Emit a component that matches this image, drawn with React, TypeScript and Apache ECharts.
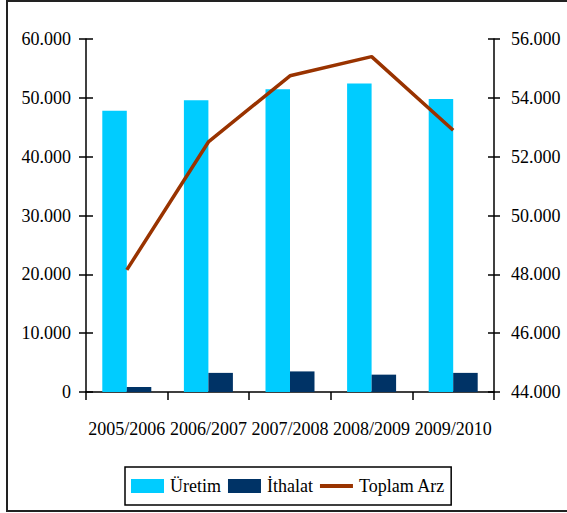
import React, { useEffect, useRef } from "react";
import * as echarts from "echarts";

const categories = ["2005/2006", "2006/2007", "2007/2008", "2008/2009", "2009/2010"];
const uretim = [47800, 49600, 51450, 52450, 49800];
const ithalat = [850, 3250, 3500, 2950, 3250];
const toplamArz = [48150, 52500, 54750, 55400, 52900];
const leftTicks = { min: 0, max: 60000, interval: 10000 };
const rightTicks = { min: 44000, max: 56000, interval: 2000 };

const FONT = "'Liberation Serif', 'Times New Roman', 'DejaVu Serif', serif";
const fmt = (v: number) => {
  if (v === 0) return "0";
  const s = String(Math.round(v));
  return s.replace(/\B(?=(\d{3})+(?!\d))/g, ".");
};

export default function App() {
  const ref = useRef<HTMLDivElement>(null);
  useEffect(() => {
    if (!ref.current) return;
    const chart = echarts.init(ref.current, null, { renderer: "svg" });
    const axisLine = { show: true, lineStyle: { color: "#000", width: 1.5 } };
    const tickStyle = { color: "#000", width: 1.5 };
    chart.setOption({
      animation: false,
      backgroundColor: "#fff",
      textStyle: { fontFamily: FONT, color: "#000" },
      graphic: [
        {
          type: "rect",
          shape: { x: 7, y: 1, width: 600, height: 510 },
          style: { fill: "none", stroke: "#222", lineWidth: 2 },
          silent: true,
        },
      ],
      grid: {
        left: 86,
        right: 73,
        top: 39,
        bottom: 121,
        outerBoundsMode: "none",
        containLabel: false,
      },
      legend: {
        left: 125,
        top: 467,
        padding: [10, 6, 10, 6],
        itemWidth: 33,
        itemHeight: 14,
        itemGap: 7,
        borderColor: "#000",
        borderWidth: 1.5,
        backgroundColor: "#fff",
        textStyle: { fontFamily: FONT, fontSize: 18, color: "#000", padding: [0, 0, 0, 1] },
        data: [
          { name: "Üretim", icon: "rect" },
          { name: "İthalat", icon: "rect" },
          { name: "Toplam Arz", icon: "path://M0,0 M0,5 L33,5 L33,9 L0,9 Z M33,14" },
        ],
      },
      xAxis: {
        type: "category",
        data: categories,
        boundaryGap: true,
        axisLine,
        axisTick: { show: true, length: 8, lineStyle: tickStyle },
        axisLabel: { fontFamily: FONT, fontSize: 18, color: "#000", margin: 28, interval: 0 },
        splitLine: { show: false },
      },
      yAxis: [
        {
          type: "value",
          position: "left",
          ...leftTicks,
          axisLine,
          axisTick: { show: true, length: 7, lineStyle: tickStyle },
          axisLabel: { fontFamily: FONT, fontSize: 18, color: "#000", margin: 15, formatter: fmt },
          splitLine: { show: false },
        },
        {
          type: "value",
          position: "right",
          ...rightTicks,
          axisLine,
          axisTick: { show: true, length: 6, lineStyle: tickStyle },
          axisLabel: { fontFamily: FONT, fontSize: 18, color: "#000", margin: 17, formatter: fmt },
          splitLine: { show: false },
        },
        {
          type: "value",
          position: "left",
          ...leftTicks,
          axisLine: { show: false },
          axisTick: { show: true, inside: true, length: 7, lineStyle: tickStyle },
          axisLabel: { show: false },
          splitLine: { show: false },
        },
        {
          type: "value",
          position: "right",
          ...rightTicks,
          axisLine: { show: false },
          axisTick: { show: true, inside: true, length: 6, lineStyle: tickStyle },
          axisLabel: { show: false },
          splitLine: { show: false },
        },
      ],
      series: [
        {
          name: "Üretim",
          type: "bar",
          yAxisIndex: 0,
          data: uretim,
          barWidth: 24.5,
          barGap: "0%",
          itemStyle: { color: "#00CCFF" },
        },
        {
          name: "İthalat",
          type: "bar",
          yAxisIndex: 0,
          data: ithalat,
          barWidth: 24.5,
          barGap: "0%",
          itemStyle: { color: "#003366" },
        },
        {
          name: "Toplam Arz",
          type: "line",
          yAxisIndex: 1,
          data: toplamArz,
          symbol: "none",
          showSymbol: false,
          lineStyle: { color: "#993300", width: 3.5 },
          itemStyle: { color: "#993300" },
          z: 5,
        },
      ],
    });
    return () => chart.dispose();
  }, []);
  return (
    <div
      ref={ref}
      style={{ position: "fixed", left: 0, top: 0, width: 567, height: 513 }}
    />
  );
}
